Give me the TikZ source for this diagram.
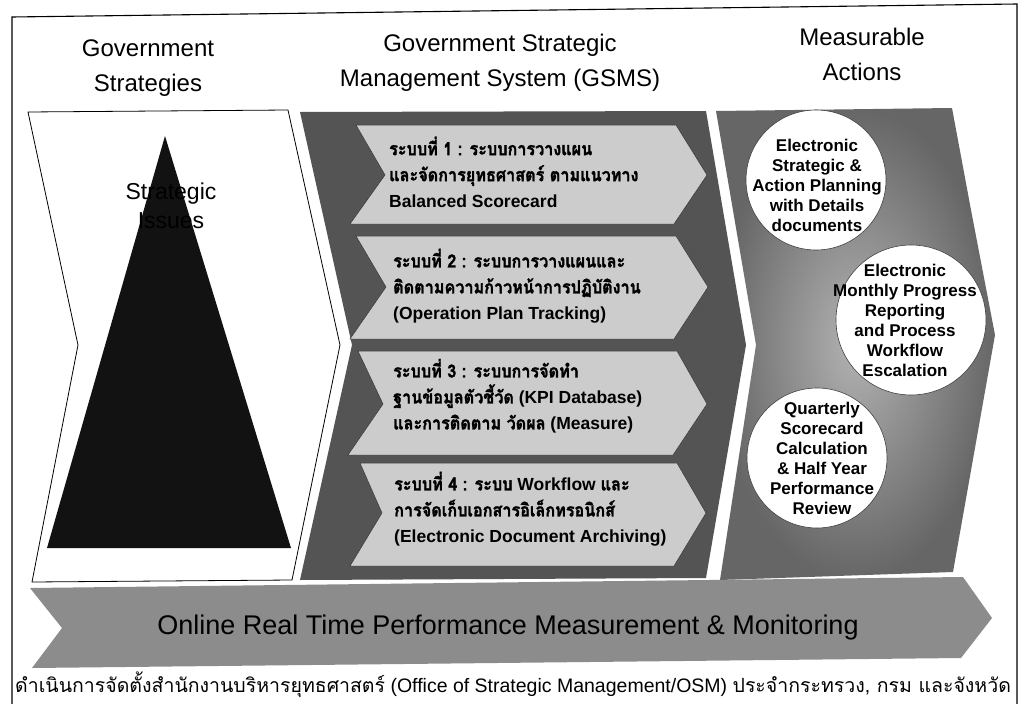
\documentclass[tikz,border=0pt]{standalone}
\usepackage{fontspec}
\setmainfont{Liberation Sans}
\newfontfamily\thai[Script=Thai]{Loma}
\newfontfamily\thaiB[Script=Thai, FakeBold=1.6, FakeStretch=0.9]{Loma}
\newcommand{\thaibox}[1]{{\thaiB\fontsize{18}{26}\selectfont #1}}
\definecolor{midpanel}{gray}{0.33}
\definecolor{boxfill}{gray}{0.80}
\definecolor{rightin}{gray}{0.70}
\definecolor{rightout}{gray}{0.40}
\definecolor{bannerfill}{gray}{0.55}
\definecolor{pyr}{gray}{0.07}
\tikzset{
  titletxt/.style={font=\fontsize{24}{35}\selectfont, align=center, inner sep=0pt},
  boxtxt/.style={font=\fontsize{17.5}{26}\selectfont\bfseries, align=left, anchor=west, inner sep=0pt},
  circtxt/.style={font=\fontsize{17}{20}\selectfont\bfseries, align=center, inner sep=0pt},
  circ/.style={circle, fill=white, draw=gray!50!black, line width=0.6pt, inner sep=0pt},
  sysbox/.style={fill=boxfill, draw=gray!40!black, line width=0.5pt},
  frame/.style={line width=1.1pt, draw=black},
}
\begin{document}
\begin{tikzpicture}[x=1pt,y=-1pt]
\useasboundingbox (0,0) rectangle (1020,704);
\fill[white] (0,0) rectangle (1020,704);
% outer frame
\draw[frame] (12,704) -- (12,17) -- (1017,4) -- (1017,704);

% titles
\node[titletxt] (t1) at (148,68) {Government\\Strategies};
\node[titletxt] (t2) at (500,63) {Government Strategic\\Management System (GSMS)};
\node[titletxt] (t3) at (862,54) {Measurable\\Actions};

% white chevron
\draw[line width=0.8pt, fill=white] (28,112) -- (288,110) -- (340,345) -- (292,580) -- (32,582) -- (78,345) -- cycle;
% pyramid
\fill[pyr] (165,136) -- (291,548) -- (47,548) -- cycle;
\node[font=\fontsize{23}{29}\selectfont, align=center, inner sep=0pt] (si) at (171,206) {Strategic\\Issues};

% middle panel
\fill[midpanel] (300,112) -- (706,111) -- (746,345) -- (706,578) -- (300,580) -- (352,345) -- cycle;
% system boxes
\draw[sysbox] (356,125) -- (676,125) -- (707,175) -- (674,224) -- (350,224) -- (385,175) -- cycle;
\draw[sysbox] (356,236) -- (676,236) -- (708,287) -- (674,339) -- (350,339) -- (386,287) -- cycle;
\draw[sysbox] (358,351) -- (677,351) -- (707,404) -- (673,455) -- (348,455) -- (383,404) -- cycle;
\draw[sysbox] (360,463) -- (677,463) -- (706,513) -- (674,566) -- (350,566) -- (382,513) -- cycle;

\node[boxtxt] (b1) at (389,172) {\thaibox{ระบบที่ 1 : ระบบการวางแผน}\\\thaibox{และจัดการยุทธศาสตร์ ตามแนวทาง}\\Balanced Scorecard};
\node[boxtxt] (b2) at (393,286) {\thaibox{ระบบที่ 2 : ระบบการวางแผนและ}\\\thaibox{ติดตามความก้าวหน้าการปฏิบัติงาน}\\(Operation Plan Tracking)};
\node[boxtxt] (b3) at (393,396) {\thaibox{ระบบที่ 3 : ระบบการจัดทำ}\\\thaibox{ฐานข้อมูลตัวชี้วัด} (KPI Database)\\\thaibox{และการติดตาม วัดผล} (Measure)};
\node[boxtxt] (b4) at (394,509) {\thaibox{ระบบที่ 4 : ระบบ} Workflow \thaibox{และ}\\\thaibox{การจัดเก็บเอกสารอิเล็กทรอนิกส์}\\(Electronic Document Archiving)};

% right panel
\shade[inner color=rightin, outer color=rightout] (716,111) -- (952,108) -- (971,210) -- (995,335) -- (953,572) -- (720,580) -- (756,345) -- cycle;
\node[circ, minimum size=140pt] (c1) at (816,180) {};
\node[circ, minimum size=150pt] (c2) at (911,320) {};
\node[circ, minimum size=140pt] (c3) at (817,458) {};
\node[circtxt] (c1t) at (817,185) {Electronic\\Strategic \&\\Action Planning\\with Details\\documents};
\node[circtxt] (c2t) at (905,320) {Electronic\\Monthly Progress\\Reporting\\and Process\\Workflow\\Escalation};
\node[circtxt] (c3t) at (822,458) {Quarterly\\Scorecard\\Calculation\\\& Half Year\\Performance\\Review};

% banner
\fill[bannerfill] (30,588) -- (963,577) -- (992,618) -- (961,658) -- (32,668) -- (62,628) -- cycle;
\node[font=\fontsize{27}{30}\selectfont, inner sep=0pt] (bn) at (508,628) {Online Real Time Performance Measurement \& Monitoring};

% bottom line
\node[anchor=west, font=\fontsize{19.5}{22}\selectfont, inner sep=0pt] (bt) at (15,685) {{\thai ดำเนินการจัดตั้งสำนักงานบริหารยุทธศาสตร์} (Office of Strategic Management/OSM) {\thai ประจำกระทรวง, กรม และจังหวัด}};
\end{tikzpicture}
\end{document}
